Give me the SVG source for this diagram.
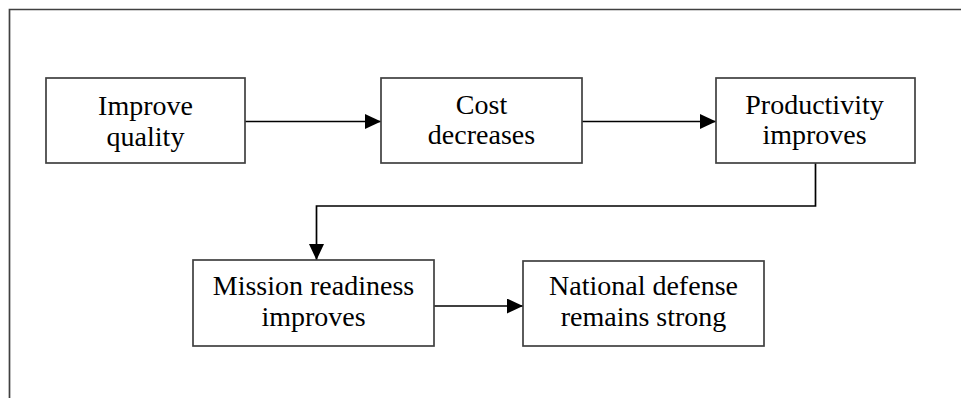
<svg xmlns="http://www.w3.org/2000/svg" width="961" height="398" viewBox="0 0 961 398">
<style>
.box{fill:#fff;stroke:#404040;stroke-width:1.7}
.frame{fill:none;stroke:#404040;stroke-width:1.7}
.t{font-family:"Liberation Serif","Times New Roman",serif;font-size:28px;fill:#000;text-anchor:middle}
.c{fill:none;stroke:#000;stroke-width:1.7}
</style>
<defs>
<marker id="ah" viewBox="0 0 16 16" refX="16" refY="8" markerWidth="16" markerHeight="15" markerUnits="userSpaceOnUse" orient="auto" preserveAspectRatio="none">
<path d="M0,0 L16,8 L0,16 Z" fill="#000"/>
</marker>
</defs>
<rect width="961" height="398" fill="#fff"/>
<path class="frame" d="M9.5,398 V9.5 H961"/>
<g id="connectors">
<path class="c" d="M245,121.5 H381" marker-end="url(#ah)"/>
<path class="c" d="M578,121.5 H716" marker-end="url(#ah)"/>
<path class="c" d="M815.5,163 V206 H316.5 V260" marker-end="url(#ah)"/>
<path class="c" d="M434,306 H523" marker-end="url(#ah)"/>
</g>
<g id="n1">
<rect class="box" x="46" y="78" width="199" height="85"/>
<text class="t" x="145.5" y="115">Improve</text>
<text class="t" x="145.5" y="146">quality</text>
</g>
<g id="n2">
<rect class="box" x="381" y="78" width="201" height="85"/>
<text class="t" x="481.5" y="114">Cost</text>
<text class="t" x="481.5" y="144">decreases</text>
</g>
<g id="n3">
<rect class="box" x="716" y="78" width="199" height="85"/>
<text class="t" x="814.5" y="114">Productivity</text>
<text class="t" x="814.5" y="144">improves</text>
</g>
<g id="n4">
<rect class="box" x="193" y="260" width="241" height="86"/>
<text class="t" x="313.5" y="295">Mission readiness</text>
<text class="t" x="313.5" y="326">improves</text>
</g>
<g id="n5">
<rect class="box" x="523" y="261" width="241" height="85"/>
<text class="t" x="643.5" y="295">National defense</text>
<text class="t" x="643.5" y="326">remains strong</text>
</g>
</svg>
